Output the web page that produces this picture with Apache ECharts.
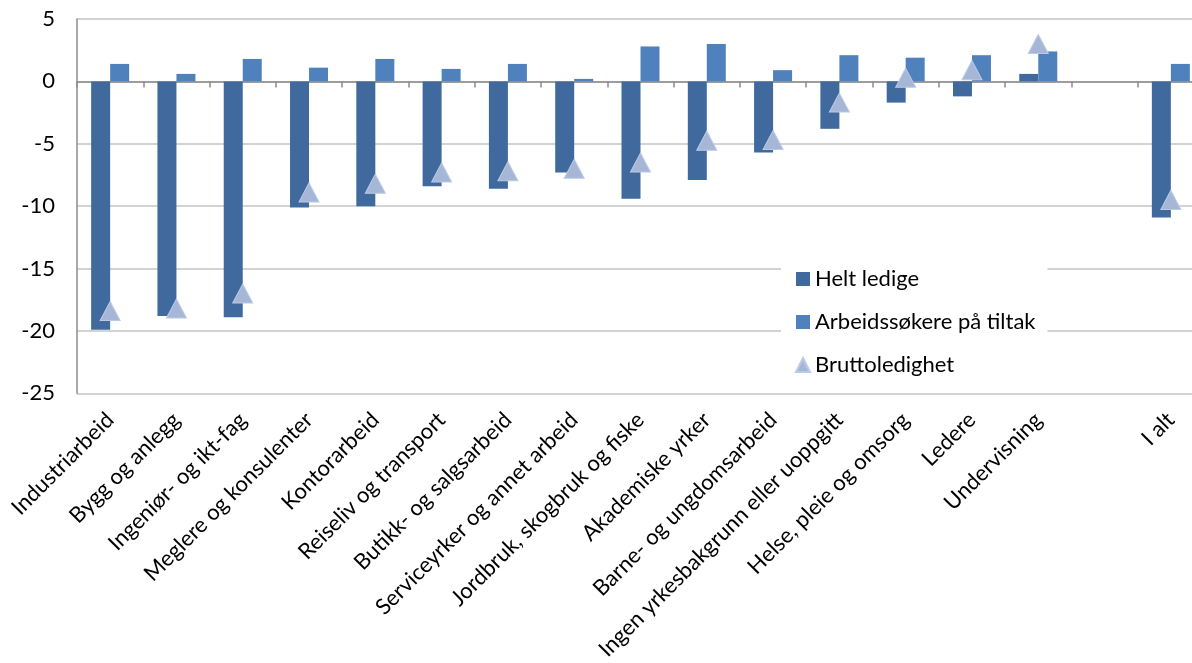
<!DOCTYPE html>
<html>
<head>
<meta charset="utf-8">
<script src="https://cdn.jsdelivr.net/npm/echarts@6/dist/echarts.min.js"></script>
<style>
html,body{margin:0;padding:0;background:#fff;overflow:hidden;}
#chart{width:1210px;height:663px;}
</style>
</head>
<body>
<div id="chart"></div>
<script>
const categories = [
  'Industriarbeid', 'Bygg og anlegg', 'Ingeniør- og ikt-fag', 'Meglere og konsulenter',
  'Kontorarbeid', 'Reiseliv og transport', 'Butikk- og salgsarbeid', 'Serviceyrker og annet arbeid',
  'Jordbruk, skogbruk og fiske', 'Akademiske yrker', 'Barne- og ungdomsarbeid',
  'Ingen yrkesbakgrunn eller uoppgitt', 'Helse, pleie og omsorg', 'Ledere', 'Undervisning',
  '', 'I alt'
];
const heltLedige = [-19.9, -18.8, -18.9, -10.1, -10.0, -8.4, -8.6, -7.3, -9.4, -7.9, -5.7, -3.8, -1.7, -1.2, 0.6, null, -10.9];
const arbeidssokere = [1.4, 0.6, 1.8, 1.1, 1.8, 1.0, 1.4, 0.2, 2.8, 3.0, 0.9, 2.1, 1.9, 2.1, 2.4, null, 1.4];
const bruttoledighet = [-18.4, -18.2, -17.0, -8.9, -8.2, -7.3, -7.2, -7.0, -6.5, -4.75, -4.7, -1.7, 0.3, 0.9, 3.0, null, -9.5];
const yTicks = { min: -25, max: 5, interval: 5 };

const FONT = 'Lato, "Open Sans", sans-serif';
const chart = echarts.init(document.getElementById('chart'), null, { renderer: 'canvas' });
chart.setOption({
  animation: false,
  backgroundColor: '#ffffff',
  textStyle: { fontFamily: FONT },
  grid: { left: 77, top: 19, right: 6, height: 375, containLabel: false },
  legend: {
    orient: 'vertical',
    left: 781,
    top: 262,
    padding: [6, 12, 9, 14],
    backgroundColor: '#ffffff',
    itemWidth: 14,
    itemHeight: 14,
    itemGap: 21,
    textStyle: { fontFamily: FONT, fontSize: 22, color: '#000', lineHeight: 22 },
    data: [
      { name: 'Helt ledige', icon: 'rect' },
      { name: 'Arbeidssøkere på tiltak', icon: 'rect' },
      { name: 'Bruttoledighet', icon: 'triangle' }
    ]
  },
  xAxis: [
    {
      type: 'category',
      data: categories,
      position: 'bottom',
      axisLine: { show: false, onZero: false },
      axisTick: { show: false },
      axisLabel: { interval: 0, rotate: 45, margin: 23, fontFamily: FONT, fontSize: 22, color: '#000' },
      splitLine: { show: false }
    },
    {
      type: 'category',
      data: categories,
      position: 'bottom',
      axisLine: { show: true, onZero: true, lineStyle: { color: '#8c8c8c', width: 1.5 } },
      axisTick: { show: true, interval: 0, length: 6, lineStyle: { color: '#8c8c8c', width: 1.5 } },
      axisLabel: { show: false },
      splitLine: { show: false }
    }
  ],
  yAxis: {
    type: 'value',
    min: yTicks.min,
    max: yTicks.max,
    interval: yTicks.interval,
    axisLine: { show: true, lineStyle: { color: '#8c8c8c', width: 1.5 } },
    axisTick: { show: false },
    axisLabel: { margin: 22, fontFamily: FONT, fontSize: 22, color: '#000' },
    splitLine: { show: true, lineStyle: { color: '#c4c4c4', width: 1.5 } }
  },
  series: [
    {
      name: 'Helt ledige',
      type: 'bar',
      data: heltLedige,
      barWidth: 19,
      barGap: '0%',
      itemStyle: { color: '#406a9d' },
      z: 2
    },
    {
      name: 'Arbeidssøkere på tiltak',
      type: 'bar',
      data: arbeidssokere,
      barWidth: 19,
      barGap: '0%',
      itemStyle: { color: '#4f81bd' },
      z: 2
    },
    {
      name: 'Bruttoledighet',
      type: 'scatter',
      data: bruttoledighet,
      symbol: 'triangle',
      symbolSize: [20, 19],
      itemStyle: { color: '#a6b6d6', borderColor: '#bccae4', borderWidth: 1, opacity: 1 },
      z: 5
    }
  ]
});
</script>
</body>
</html>
